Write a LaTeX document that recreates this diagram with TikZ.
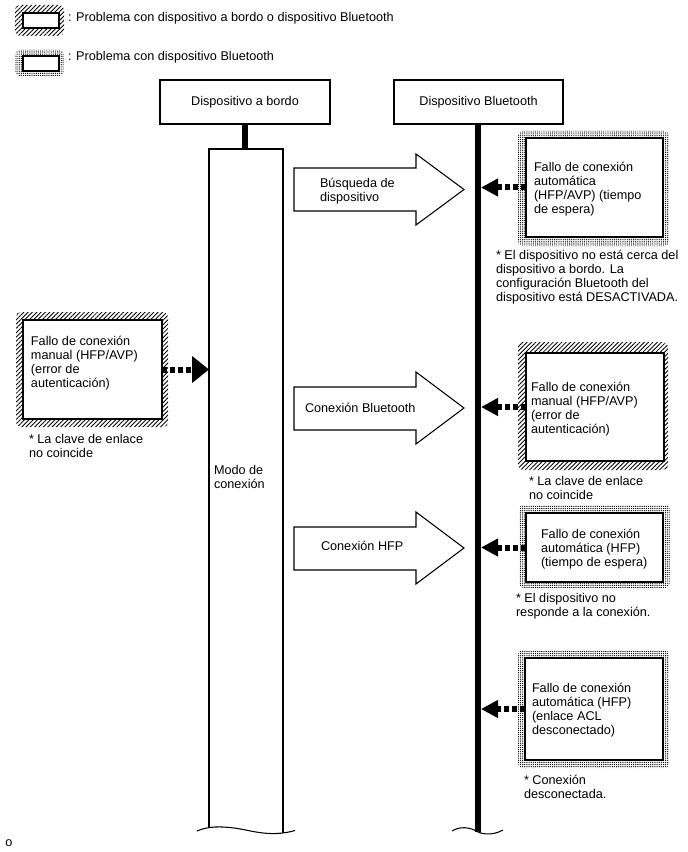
\documentclass[tikz,border=0pt]{standalone}
\usepackage{fontspec}
\setmainfont{Liberation Sans}
\usetikzlibrary{arrows.meta,patterns.meta,fit}
\begin{document}
\begin{tikzpicture}[x=0.75pt,y=-0.75pt,
  every node/.style={font=\fontsize{9.5}{10.5}\selectfont, inner sep=0pt, outer sep=0pt},
  txt/.style={align=left, anchor=west},
  hdr/.style={draw, line width=0.8pt},
  ibox/.style={draw, line width=1.5pt, fill=white},
  hatchband/.style={pattern={Lines[angle=45,distance=2.3pt,line width=0.65pt]}, rounded corners=3.5pt},
  dotband/.style={pattern={Dots[distance=1.6pt,radius=0.5pt]}, rounded corners=3.5pt},
  darr/.style={line width=4.5pt, dash pattern=on 3.9pt off 2.1pt, -{Triangle[length=12.75pt,width=12.75pt]}},
  barr/.style={draw, line width=0.8pt, fill=white, line join=miter},
  barline/.style={line width=4pt},
  thin line/.style={line width=0.8pt}
]
\useasboundingbox (0,0) rectangle (688,852);

% legend
\fill[hatchband] (15,5) rectangle (64,36);
\node[ibox, fit={(23,13) (59,28)}] (lg1) {};
\node[txt] (lg1t) at (68,18) {: Problema con dispositivo a bordo o dispositivo Bluetooth};
\fill[dotband] (15,50) rectangle (64,76);
\node[ibox, fit={(23,56) (59,71)}] (lg2) {};
\node[txt] (lg2t) at (68,57) {: Problema con dispositivo Bluetooth};

% headers
\node[hdr, fit={(160,80) (330,124)}] (h1) {};
\node (h1t) at (h1.center) {Dispositivo a bordo};
\node[hdr, fit={(394,80) (563,124)}] (h2) {};
\node (h2t) at (h2.center) {Dispositivo Bluetooth};

% mode box
\node[fit={(209,149) (283,830)}] (mode) {};
\draw[thin line] (209,827.8) -- (mode.north west) -- (mode.north east) -- (283,833);
\draw[thin line] (197,831) .. controls (205,827.5) and (215,826) .. (230,827.5)
  .. controls (245,829) and (255,833) .. (270,833.5)
  .. controls (280,834) and (290,832) .. (295,830.5);
\node[txt] (mt) at (214,477) {Modo de\\conexión};
\draw[line width=4.5pt] (h1.south) -- (h1.south |- mode.north);

% bluetooth line
\coordinate (btbot) at (478,832);
\coordinate (bte) at (481,0);
\draw[barline] (h2.south -| btbot) -- (btbot);
\draw[thin line] (452,831) .. controls (460,826) and (470,827) .. (478,832)
  .. controls (486,835.5) and (496,834) .. (503,830);

% block arrows
\draw[barr] (294,168) -- (416,168) -- (416,154) -- (464,189.5) -- (416,225) -- (416,211) -- (294,211) -- cycle;
\node[txt] (a1) at (320,191) {Búsqueda de\\dispositivo};
\draw[barr] (294,387) -- (416,387) -- (416,372) -- (464,408) -- (416,444) -- (416,430) -- (294,430) -- cycle;
\node[txt] (a2) at (305,408) {Conexión Bluetooth};
\draw[barr] (294,527) -- (416,527) -- (416,512) -- (464,548) -- (416,584) -- (416,570) -- (294,570) -- cycle;
\node[txt] (a3) at (321,546) {Conexión HFP};

% left box
\fill[hatchband] (16,312) rectangle (168,427);
\node[ibox, fit={(23,320) (162,419)}] (lb) {};
\node[txt] (lbt) at (31,363) {Fallo de conexión\\manual (HFP/AVP)\\(error de\\autenticación)};
\node[txt] (lbf) at (29,445.5) {* La clave de enlace\\no coincide};
\draw[darr, -{Triangle[length=12.75pt,width=19.5pt]}] (lb.east) -- (lb.east -| mode.west);

% right box 1
\fill[dotband] (518,131) rectangle (669,246);
\node[ibox, fit={(526,138) (663,237)}] (b1) {};
\node[txt] (b1t) at (534,189) {Fallo de conexión\\automática\\(HFP/AVP) (tiempo\\de espera)};
\node[txt] (b1f) at (496,277) {* El dispositivo no está cerca del\\dispositivo a bordo. La\\configuración Bluetooth del\\dispositivo está DESACTIVADA.};
\draw[darr] (b1.west) -- (b1.west -| bte);

% right box 2
\fill[hatchband] (518,342) rectangle (668,470);
\node[ibox, fit={(526,353) (664,461)}] (b2) {};
\node[txt] (b2t) at (531,409) {Fallo de conexión\\manual (HFP/AVP)\\(error de\\autenticación)};
\node[txt] (b2f) at (529,487.5) {* La clave de enlace\\no coincide};
\draw[darr] (b2.west) -- (b2.west -| bte);

% right box 3
\fill[dotband] (519,505) rectangle (670,588);
\node[ibox, fit={(526,513) (663,582)}] (b3) {};
\node[txt] (b3t) at (541,549) {Fallo de conexión\\automática (HFP)\\(tiempo de espera)};
\node[txt] (b3f) at (516,606.5) {* El dispositivo no\\responde a la conexión.};
\draw[darr] (b3.west) -- (b3.west -| bte);

% right box 4
\fill[dotband] (518,650) rectangle (669,768);
\node[ibox, fit={(525,658) (663,760)}] (b4) {};
\node[txt] (b4t) at (532,710) {Fallo de conexión\\automática (HFP)\\(enlace ACL\\desconectado)};
\node[txt] (b4f) at (524,787) {* Conexión\\desconectada.};
\draw[darr] (b4.west) -- (b4.west -| bte);

\node (o) at (9,843) {o};
\end{tikzpicture}
\end{document}
